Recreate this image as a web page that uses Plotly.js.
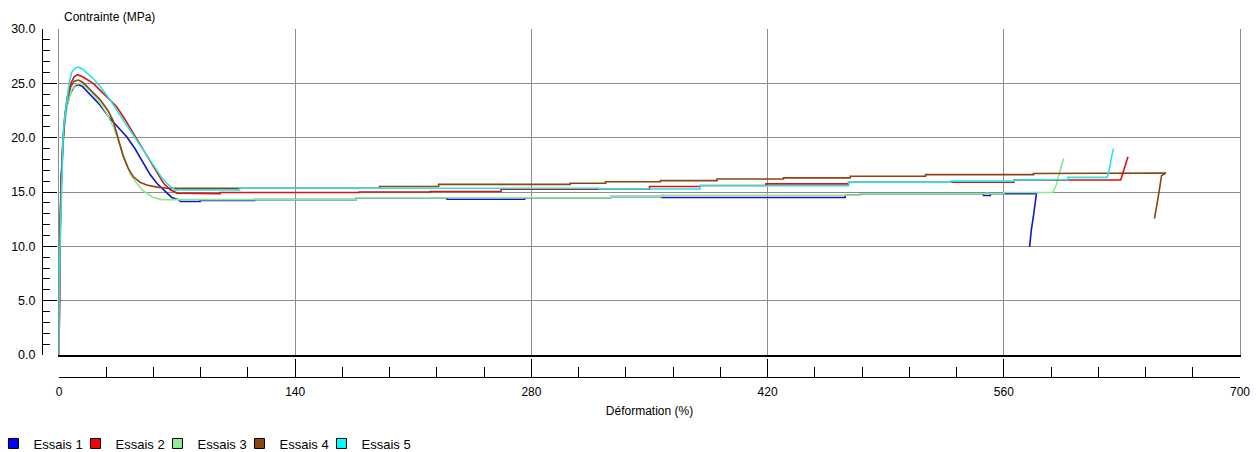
<!DOCTYPE html>
<html>
<head>
<meta charset="utf-8">
<script src="https://cdn.plot.ly/plotly-3.0.1.min.js"></script>
<style>html,body{margin:0;padding:0;background:#fff;}#chart{width:1257px;height:452px;}</style>
</head>
<body>
<div id="chart"></div>
<script>
// ---- Data (strain %, stress MPa) ----
const seriesNames = ['Essais 1', 'Essais 2', 'Essais 3', 'Essais 4', 'Essais 5'];
const seriesColors = ['#0000ff', '#ff0000', '#90ee90', '#8b4513', '#00ffff'];
const lineColors = ['#1414c8', '#e01010', '#8ee88e', '#8b4513', '#20e8e8'];

const strain1 = [0,0.1,0.3,0.7,1.3,2.2,3,4.5,6.5,9,11.5,14,18,24.3,30,35,40,45,50,54,58,62,66.8,70.8,72,83.6,83.6,116,116,176,176,230,230,276,276,327,327,357,357,466,466,475,475,548,548,552,552,578,579.4,577.5,576.3,575.3];
const stress1 = [0,4.5,7.5,12,16.5,19.5,21,22.8,24,24.7,24.9,24.7,24,23,21.8,20.9,20.1,19,17.6,16.6,15.8,15.2,14.5,14.3,14.12,14.12,14.22,14.22,14.3,14.3,14.47,14.47,14.33,14.33,14.47,14.47,14.57,14.57,14.5,14.5,14.7,14.7,14.85,14.85,14.68,14.68,14.85,14.85,14.95,12.7,11.5,9.95];

const strain2 = [0,0.1,0.5,1.2,2.3,3.5,5,7,9,11,14,20.3,27,34.2,39,44,49,54,58,62,66,70,95.5,95.5,178,178,220,220,262,262,350,350,380,380,419,419,468,468,566,566,629.3,630.5,632,633.6];
const stress2 = [0,5,10,15,19.5,22,23.8,25,25.6,25.8,25.6,25,24,22.85,21.7,20.4,19.1,17.9,16.8,15.8,15.2,14.9,14.85,14.95,14.95,15,15,15.05,15.05,15.25,15.25,15.5,15.5,15.6,15.6,15.75,15.75,15.9,15.9,16.1,16.1,16.7,17.5,18.25];

const strain3 = [0,0.2,0.6,1.3,2.3,3.5,5,7.5,10,12.5,15,19,24.3,28,32.2,35,37.2,40,42.1,46,50,55.8,60.9,176,176,327,327,357,357,475,475,560,560,589,591,593,595.5];
const stress3 = [0,5,10,15,19,21.5,23,24.4,24.9,25,24.8,24.2,23.2,22.3,21,19.8,18.9,17.6,16.7,15.8,15.1,14.5,14.3,14.3,14.47,14.47,14.57,14.57,14.7,14.7,14.85,14.85,14.95,14.95,15.6,16.8,18.1];

const strain4 = [0,0.15,0.5,1.2,2.2,3.5,5,7,9,11.5,14,18,24.3,29,32,34.2,36,38.1,41,44.1,48,52,58,63.9,190,190,225,225,303,303,324,324,356.5,356.5,390,390,429.4,429.4,469,469,513.6,513.6,577.6,577.6,656,653.5,651.5,649.3];
const stress4 = [0,5,10,15,19.5,22,23.7,24.7,25.2,25.3,25.1,24.5,23.5,22.5,21.6,20.4,19.3,18.25,17.2,16.4,15.9,15.65,15.45,15.35,15.35,15.5,15.5,15.7,15.7,15.8,15.8,15.95,15.95,16.05,16.05,16.2,16.2,16.3,16.3,16.45,16.45,16.6,16.6,16.7,16.75,16.5,14.5,12.55];

const strain5 = [0,0.05,0.6,1.5,2.5,3.5,4.6,6,7.5,9.5,11.5,14,17,20.3,25,30.2,36,42.1,46,50,54,57.9,61,63.9,66,68.8,107,107,320,320,380,380,468,468,528.5,528.5,566,566,582,582,598,598,621.3,622.5,623.2,623.7,625];
const stress5 = [0,5,10,15,20.5,22,23.5,25,26,26.4,26.5,26.3,25.9,25.45,24.6,23.5,22.1,20.7,19.8,18.9,17.9,17,16.3,15.8,15.5,15.2,15.2,15.35,15.35,15.27,15.27,15.58,15.58,15.9,15.9,16,16,16.1,16.1,16.15,16.15,16.35,16.35,17,17.9,18.1,19];

const xTickVals = [0, 140, 280, 420, 560, 700];
const xTickText = ['0', '140', '280', '420', '560', '700'];
const yTickVals = [0, 5, 10, 15, 20, 25, 30];
const yTickText = ['0.0', '5.0', '10.0', '15.0', '20.0', '25.0', '30.0'];

const allStrain = [strain1, strain2, strain3, strain4, strain5];
const allStress = [stress1, stress2, stress3, stress4, stress5];
// draw order (later = on top)
const drawOrder = [0, 2, 3, 1, 4];

const FONT = 'Liberation Sans, Arial, sans-serif';
const traces = [];
drawOrder.forEach(i => {
  traces.push({
    type: 'scatter', mode: 'lines',
    x: allStrain[i], y: allStress[i],
    name: seriesNames[i], showlegend: false, hoverinfo: 'skip',
    line: {color: lineColors[i], width: 1.6}
  });
});
seriesNames.forEach((n, i) => {
  traces.push({
    type: 'scatter', mode: 'markers', x: [null], y: [null],
    xaxis: 'x2', yaxis: 'y2', name: n, showlegend: true,
    marker: {symbol: 'square', size: 10, color: seriesColors[i], line: {color: '#000', width: 1}}
  });
});
// invisible spacer entry so the last legend label is not clipped
traces.push({
  type: 'scatter', mode: 'markers', x: [null], y: [null],
  xaxis: 'x2', yaxis: 'y2', name: ' ', showlegend: true,
  marker: {symbol: 'square', size: 1, color: 'rgba(0,0,0,0)', line: {width: 0}}
});

const W = 1257, H = 452;
const mL = 42, mR = 17, mT = 29, mB = 75;
const pw = W - mL - mR, ph = H - mT - mB;
const xDom = [(59 - mL) / pw, 1];
const yDom = [(377 - 355) / ph, 1];

const layout = {
  width: W, height: H,
  margin: {l: mL, r: mR, t: mT, b: mB, pad: 0, autoexpand: false},
  paper_bgcolor: '#fff', plot_bgcolor: '#fff',
  font: {family: FONT, size: 12, color: '#000'},
  showlegend: true,
  legend: {
    orientation: 'h', x: -0.0405, xanchor: 'left', y: -0.148, yanchor: 'top',
    font: {family: FONT, size: 13, color: '#000'},
    itemwidth: 30, entrywidth: 37, entrywidthmode: 'pixels',
    bgcolor: 'rgba(0,0,0,0)', traceorder: 'normal', itemclick: false
  },
  xaxis: {
    domain: xDom, range: [0, 700], anchor: 'y',
    showgrid: true, gridcolor: '#8c8c8c', gridwidth: 1,
    tickvals: xTickVals, showticklabels: false, ticks: '',
    zeroline: false, showline: true, linecolor: '#000', linewidth: 2, mirror: false
  },
  xaxis3: {
    overlaying: 'x', anchor: 'y', side: 'top', range: [0, 700],
    showgrid: false, showticklabels: false, ticks: '', zeroline: false,
    showline: true, linecolor: '#8c8c8c', linewidth: 1
  },
  yaxis: {
    domain: yDom, range: [0, 30], anchor: 'x',
    showgrid: true, gridcolor: '#8c8c8c', gridwidth: 1,
    tickvals: yTickVals, showticklabels: false, ticks: '',
    zeroline: false, showline: true, linecolor: '#8c8c8c', linewidth: 1, mirror: true
  },
  xaxis2: {
    overlaying: 'x', anchor: 'free', position: 0, range: [0, 700],
    tickvals: xTickVals, ticktext: xTickText,
    ticks: 'inside', ticklen: 18, tickwidth: 1, tickcolor: '#000',
    minor: {dtick: 28, tick0: 0, ticks: 'inside', ticklen: 10, tickwidth: 1, tickcolor: '#000', showgrid: false},
    showgrid: false, zeroline: false, showline: true, linecolor: '#000', linewidth: 1,
    ticklabelstandoff: 4,
    tickfont: {family: FONT, size: 12, color: '#000'},
    title: {text: 'Déformation (%)', font: {family: FONT, size: 12, color: '#000'}, standoff: 8}
  },
  yaxis2: {
    overlaying: 'y', anchor: 'free', position: 0, range: [0, 30],
    tickvals: yTickVals, ticktext: yTickText,
    ticks: 'inside', ticklen: 14, tickwidth: 1, tickcolor: '#000',
    minor: {dtick: 1, tick0: 0, ticks: 'inside', ticklen: 7, tickwidth: 1, tickcolor: '#000', showgrid: false},
    showgrid: false, zeroline: false, showline: true, linecolor: '#000', linewidth: 1,
    ticklabelstandoff: 4,
    tickfont: {family: FONT, size: 12.5, color: '#000'}
  },
  annotations: [{
    text: 'Contrainte (MPa)', xref: 'paper', yref: 'paper',
    x: (62 - mL) / pw, xanchor: 'left', y: (377 - 17) / ph, yanchor: 'middle',
    showarrow: false, font: {family: FONT, size: 12, color: '#000'}
  }]
};

Plotly.newPlot('chart', traces, layout, {displayModeBar: false, staticPlot: true});
</script>
</body>
</html>
